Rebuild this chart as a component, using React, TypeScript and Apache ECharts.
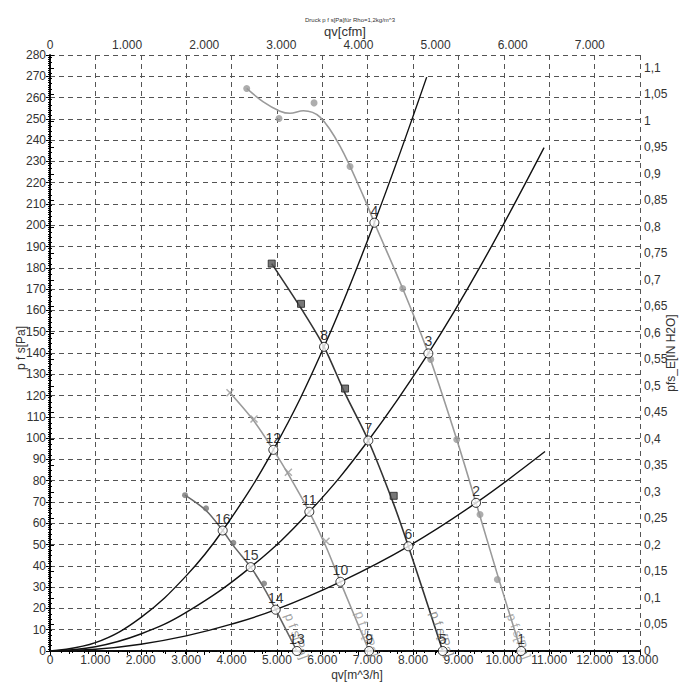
import React, { useEffect, useRef } from "react";
import * as echarts from "echarts";

const TITLE = "Druck p f s[Pa]für Rho=1,2kg/m^3";
const CFM_FACTOR = 1.699; // m^3/h per cfm
const PA_PER_INH2O = 249.089;
const FONT = "Liberation Sans, Arial, sans-serif";

// System curves (qv in m^3/h, p in Pa)
const sysSteepQ = [0, 1000, 2000, 3000, 3805, 4921, 6038, 7147, 8300];
const sysSteepP = [0, 3.9, 15.7, 35.3, 56.6, 94.5, 142.9, 201.2, 269.6];
const sysMidQ = [0, 1000, 2000, 3000, 4422, 5714, 7014, 8336, 9500, 10886];
const sysMidP = [0, 2, 8, 18.1, 39.4, 65.4, 98.9, 139.8, 181.4, 236.5];
const sysLowQ = [0, 1000, 2000, 3000, 4000, 4973, 6398, 7896, 9387, 10907];
const sysLowP = [0, 0.8, 3.2, 7.1, 12.6, 19.4, 32.5, 49.2, 69.6, 93.7];

// Fan curve A (light gray, dots)
const fanAQ = [4334, 4700, 5068, 5289, 5583, 5950, 6390, 6905, 7147, 7771, 8336, 8962, 9387, 9857, 10380];
const fanAP = [264.3, 258, 253.6, 252.6, 253.8, 250.8, 237.2, 213.7, 201.2, 170.3, 139.8, 99.4, 69.6, 36, 0];
const fanAMarkQ = [4334, 5046, 5818, 6611, 7771, 8389, 8962, 9475, 9857];
const fanAMarkP = [264.3, 250.2, 257.5, 227.6, 170.3, 137, 99.4, 64.1, 33.6];

// Fan curve B (dark, squares)
const fanBQ = [4885, 5531, 6038, 6501, 7014, 7573, 7896, 8653];
const fanBP = [182, 161, 142.9, 121, 98.9, 69, 49.2, 0];
const fanBMarkQ = [4885, 5531, 6501, 7573];
const fanBMarkP = [182, 163.1, 123.3, 72.9];

// Fan curve C (gray, crosses)
const fanCQ = [3966, 4495, 4921, 5252, 5714, 6082, 6398, 7030];
const fanCP = [121.3, 108, 94.5, 83, 65.4, 49, 32.5, 0];
const fanCMarkQ = [3966, 4495, 5252, 6082];
const fanCMarkP = [121.3, 109, 84, 51.6];

// Fan curve D (mid gray, dots)
const fanDQ = [2975, 3438, 3805, 4040, 4422, 4716, 4973, 5440];
const fanDP = [73.2, 66, 56.6, 49.5, 39.4, 29.5, 19.4, 0];
const fanDMarkQ = [2975, 3438, 4040, 4716];
const fanDMarkP = [73.2, 67, 50.8, 31.7];

// Operating points
const opLabels = ["1", "2", "3", "4", "5", "6", "7", "8", "9", "10", "11", "12", "13", "14", "15", "16"];
const opQ = [10380, 9387, 8336, 7147, 8653, 7896, 7014, 6038, 7030, 6398, 5714, 4921, 5440, 4973, 4422, 3805];
const opP = [0, 69.6, 139.8, 201.2, 0, 49.2, 98.9, 142.9, 0, 32.5, 65.4, 94.5, 0, 19.4, 39.4, 56.6];

// Curve name labels
const curveLabelText = "p f s[Pa]";
const curveLabelQ = [10330, 8640, 6985, 5440];
const curveLabelP = [7, 8, 8, 7];
const curveLabelColors = ["#9a9a9a", "#777777", "#9a9a9a", "#888888"];

const pairs = (q: number[], p: number[]) => q.map((v, i) => [v, p[i]]);
const thousands = (v: number) =>
  Math.round(v).toString().replace(/\B(?=(\d{3})+(?!\d))/g, ".");
const commaDec = (v: number) => String(parseFloat(v.toFixed(3))).replace(".", ",");

export default function App() {
  const ref = useRef<HTMLDivElement>(null);
  useEffect(() => {
    if (!ref.current) return;
    const chart = echarts.init(ref.current, undefined, { renderer: "svg" });

    const sysLine = (q: number[], p: number[]) => ({
      type: "line",
      data: pairs(q, p),
      smooth: 0.4,
      symbol: "none",
      lineStyle: { color: "#111", width: 1.4 },
      z: 3,
    });
    const fanLine = (q: number[], p: number[], color: string, smooth: number) => ({
      type: "line",
      data: pairs(q, p),
      smooth,
      symbol: "none",
      lineStyle: { color, width: 1.6 },
      z: 2,
    });

    const axisLabelStyle = { fontSize: 12, color: "#333", fontFamily: FONT };
    const blackLine = { color: "#000", width: 1 };

    chart.setOption({
      animation: false,
      textStyle: { fontFamily: FONT },
      title: {
        text: TITLE,
        left: "center",
        top: 12,
        textStyle: { fontSize: 6, fontWeight: "normal", color: "#333" },
      },
      grid: { left: 50, right: 60, top: 55, bottom: 49 },
      xAxis: [
        {
          type: "value",
          position: "bottom",
          min: 0,
          max: 13000,
          interval: 1000,
          axisLine: { show: true, lineStyle: { color: "#000", width: 1.5 } },
          axisTick: { show: true, length: 4, lineStyle: blackLine },
          minorTick: { show: true, splitNumber: 4, length: 2, lineStyle: blackLine },
          axisLabel: { ...axisLabelStyle, margin: 3, formatter: thousands },
          splitLine: { show: true, lineStyle: { color: "#555", width: 1, type: [5, 4] } },
          name: "qv[m^3/h]",
          nameLocation: "middle",
          nameGap: 18,
          nameMoveOverlap: false,
          nameTextStyle: { fontSize: 12, color: "#333", padding: [0, 0, 0, 24] },
        },
        {
          type: "value",
          position: "top",
          min: 0,
          max: 13000 / CFM_FACTOR,
          interval: 1000,
          axisLine: { show: true, lineStyle: { color: "#000", width: 1.5 } },
          axisTick: { show: true, inside: true, length: 4, lineStyle: blackLine },
          minorTick: { show: true, splitNumber: 4, length: 3, lineStyle: blackLine },
          axisLabel: { ...axisLabelStyle, margin: 4, formatter: thousands, showMaxLabel: false },
          splitLine: { show: false },
          name: "qv[cfm]",
          nameLocation: "middle",
          nameGap: 17,
          nameMoveOverlap: false,
          nameTextStyle: { fontSize: 13, color: "#333" },
        },
      ],
      yAxis: [
        {
          type: "value",
          position: "left",
          min: 0,
          max: 280,
          interval: 10,
          axisLine: { show: true, lineStyle: { color: "#000", width: 1.5 } },
          axisTick: { show: true, length: 4, lineStyle: blackLine },
          minorTick: { show: true, splitNumber: 10, length: 2, lineStyle: blackLine },
          axisLabel: { ...axisLabelStyle, margin: 4 },
          splitLine: { show: true, lineStyle: { color: "#555", width: 1, type: [5, 4] } },
          name: "p f s[Pa]",
          nameLocation: "middle",
          nameRotate: 90,
          nameGap: 23,
          nameMoveOverlap: false,
          nameTextStyle: { fontSize: 12, color: "#333", padding: [0, 0, 0, 10] },
        },
        {
          type: "value",
          position: "right",
          min: 0,
          max: 280 / PA_PER_INH2O,
          interval: 0.05,
          axisLine: { show: true, lineStyle: { color: "#000", width: 1.5 } },
          axisTick: { show: true, length: 4, lineStyle: blackLine },
          minorTick: { show: true, splitNumber: 5, length: 2, lineStyle: blackLine },
          axisLabel: { ...axisLabelStyle, margin: 4, formatter: commaDec, showMaxLabel: false },
          splitLine: { show: false },
          name: "pfs_E[IN H2O]",
          nameLocation: "middle",
          nameRotate: 90,
          nameGap: 25,
          nameMoveOverlap: false,
          nameTextStyle: { fontSize: 12, color: "#333" },
        },
      ],
      series: [
        sysLine(sysSteepQ, sysSteepP),
        sysLine(sysMidQ, sysMidP),
        sysLine(sysLowQ, sysLowP),
        fanLine(fanAQ, fanAP, "#9a9a9a", 0.35),
        fanLine(fanBQ, fanBP, "#333333", 0.3),
        fanLine(fanCQ, fanCP, "#9a9a9a", 0.3),
        fanLine(fanDQ, fanDP, "#666666", 0.3),
        {
          type: "scatter",
          data: pairs(fanAMarkQ, fanAMarkP),
          symbol: "circle",
          symbolSize: 7,
          itemStyle: { color: "#999" },
          z: 4,
        },
        {
          type: "scatter",
          data: pairs(fanBMarkQ, fanBMarkP),
          symbol: "rect",
          symbolSize: 7,
          itemStyle: { color: "#555", borderColor: "#222", borderWidth: 1 },
          z: 4,
        },
        {
          type: "scatter",
          data: pairs(fanCMarkQ, fanCMarkP),
          symbol: "path://M0,0L10,10M10,0L0,10",
          symbolSize: 7,
          itemStyle: { color: "none", borderColor: "#999", borderWidth: 1.5 },
          z: 4,
        },
        {
          type: "scatter",
          data: pairs(fanDMarkQ, fanDMarkP),
          symbol: "circle",
          symbolSize: 6,
          itemStyle: { color: "#777" },
          z: 4,
        },
        {
          type: "scatter",
          data: curveLabelQ.map((q, i) => ({
            value: [q, curveLabelP[i]],
            label: { color: curveLabelColors[i] },
          })),
          symbol: "circle",
          symbolSize: 1,
          itemStyle: { color: "rgba(0,0,0,0)" },
          label: {
            show: true,
            position: "inside",
            rotate: -70,
            formatter: curveLabelText,
            fontSize: 13,
            fontFamily: FONT,
          },
          z: 3,
        },
        {
          type: "scatter",
          data: opQ.map((q, i) => ({ value: [q, opP[i]], name: opLabels[i] })),
          symbol: "circle",
          symbolSize: 9,
          itemStyle: { color: "#fff", borderColor: "#000", borderWidth: 1 },
          label: {
            show: true,
            position: "top",
            distance: 0,
            formatter: (p: any) => p.name,
            color: "#000",
            fontSize: 14,
            fontFamily: FONT,
          },
          clip: false,
          z: 10,
        },
      ],
    });
    return () => chart.dispose();
  }, []);
  return (
    <div
      ref={ref}
      style={{ position: "fixed", left: 0, top: 0, width: 700, height: 700, background: "#fff" }}
    />
  );
}
